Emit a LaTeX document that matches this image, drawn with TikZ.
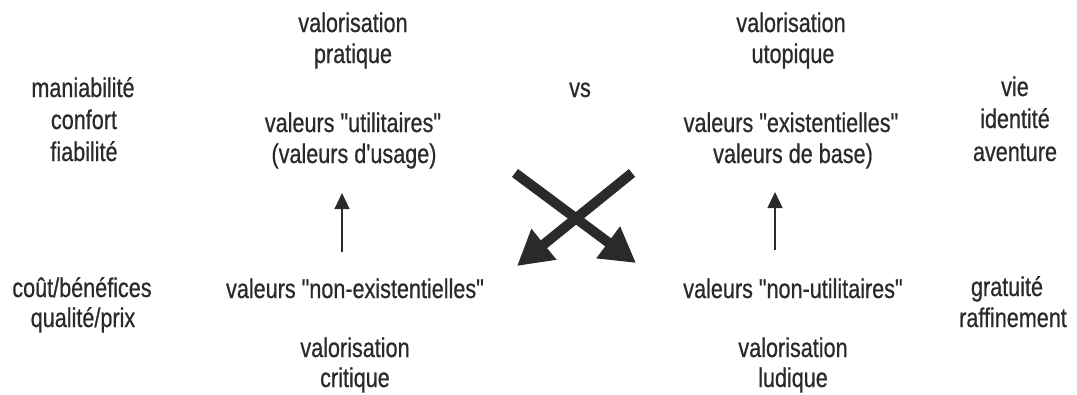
\documentclass[tikz,border=0pt]{standalone}
\usepackage{fontspec}
\setmainfont[FakeStretch=0.8,FakeBold=0.6,Ligatures=TeXOff]{Liberation Sans}
\usetikzlibrary{arrows.meta}
\definecolor{ink}{HTML}{2A2A2A}
\begin{document}
\begin{tikzpicture}[x=0.75pt,y=-0.75pt,
  lbl/.style={anchor=base,inner sep=0pt,text=ink,font=\fontsize{20.25}{23}\selectfont},
  bigarrow/.style={draw=ink,line width=7.5pt,-{Triangle[length=26pt,width=28pt]}},
  smallarrow/.style={draw=ink,line width=1.8pt,-{Triangle[length=12pt,width=11pt]}}]
\useasboundingbox[fill=white] (0,0) rectangle (1077,394);
% top row
\node[lbl] (vp1) at (353,32) {valorisation};
\node[lbl] (vp2) at (353,63) {pratique};
\node[lbl] (vu1) at (791,32) {valorisation};
\node[lbl] (vu2) at (793,63) {utopique};
\node[lbl] (vs) at (580,97) {vs};
% left column
\node[lbl] (l1) at (83,97) {maniabilité};
\node[lbl] (l2) at (84,129) {confort};
\node[lbl] (l3) at (84,161) {fiabilité};
% right column
\node[lbl] (r1) at (1015,96) {vie};
\node[lbl] (r2) at (1015,128) {identité};
\node[lbl] (r3) at (1015,161) {aventure};
% middle upper
\node[lbl] (u1) at (353,132) {valeurs "utilitaires"};
\node[lbl] (u2) at (354,163) {(valeurs d'usage)};
\node[lbl] (e1) at (791,132) {valeurs "existentielles"};
\node[lbl] (e2) at (793,163) {valeurs de base)};
% bottom row
\node[lbl] (c1) at (82,297) {coût/bénéfices};
\node[lbl] (c2) at (83,327) {qualité/prix};
\node[lbl] (ne) at (355,298) {valeurs "non-existentielles"};
\node[lbl] (nu) at (793,298) {valeurs "non-utilitaires"};
\node[lbl] (g1) at (1007,296) {gratuité};
\node[lbl] (g2) at (1013,327) {raffinement};
\node[lbl] (vc1) at (355,357) {valorisation};
\node[lbl] (vc2) at (355,387) {critique};
\node[lbl] (vl1) at (793,357) {valorisation};
\node[lbl] (vl2) at (793,387) {ludique};
% small arrows
\coordinate (la0) at (342,252);
\coordinate (la1) at (342,193);
\coordinate (ra0) at (775,250);
\coordinate (ra1) at (775,192);
\draw[smallarrow] (la0) -- (la1);
\draw[smallarrow] (ra0) -- (ra1);
% cross
\coordinate (x1s) at (515,173);
\coordinate (x1e) at (636,263);
\coordinate (x2s) at (632,173);
\coordinate (x2e) at (517,266);
\draw[bigarrow] (x1s) -- (x1e);
\draw[bigarrow] (x2s) -- (x2e);
\end{tikzpicture}
\end{document}
